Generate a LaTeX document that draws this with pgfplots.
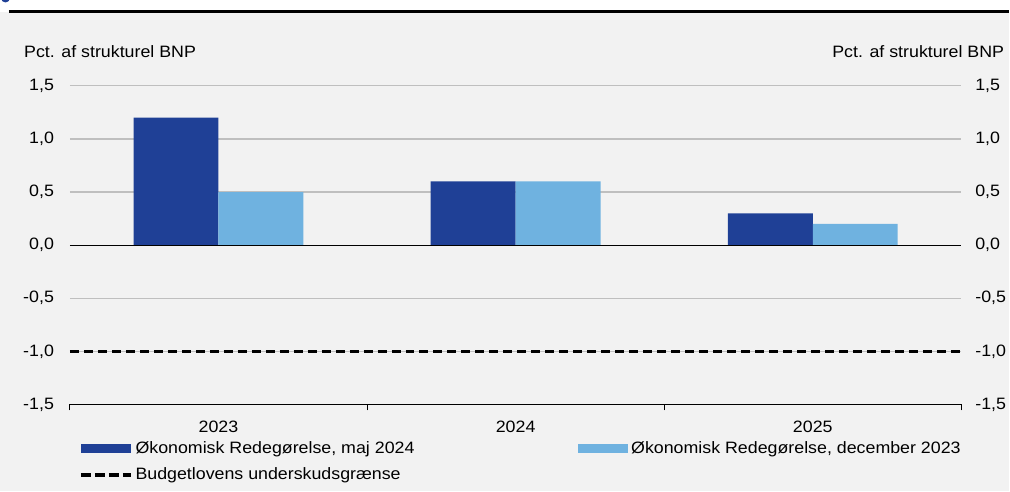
\documentclass[border=0pt]{standalone}
\usepackage{pgfplots}
\pgfplotsset{compat=1.18}
\usepackage{fontspec}
\setmainfont{Liberation Sans}[FakeStretch=1.08]
\definecolor{darkblue}{HTML}{1F4096}
\definecolor{lightblue}{HTML}{6FB2E0}
\definecolor{bggray}{HTML}{F2F2F2}
\definecolor{gridgray}{HTML}{BFBFBF}
\definecolor{titleblue}{HTML}{1F4096}
\newcommand\fs{\fontsize{16.5bp}{19.8bp}\selectfont}
\begin{document}
\begin{tikzpicture}[x=1bp,y=1bp]
\fill[white] (0,0) rectangle (1010,492);
\fill[bggray] (0,0) rectangle (1010,480);
\draw[black, line width=2.5bp] (9,480.5) -- (1010,480.5);
\begin{scope}
\clip (0,488.5) rectangle (20,492);
\fill[titleblue] (5.5,494) circle (4.5);
\end{scope}
\node[anchor=base west, font=\fs, inner sep=0pt] at (24,434.3) {Pct. af strukturel BNP};
\node[anchor=base east, font=\fs, inner sep=0pt] at (1005.5,434.3) {Pct. af strukturel BNP};
\begin{axis}[
  at={(70bp,87bp)}, anchor=south west, scale only axis,
  width=892.5bp, height=319bp,
  xmin=-0.5, xmax=2.5, ymin=-1.5, ymax=1.5,
  axis x line*=bottom, axis y line*=left,
  y axis line style={draw=none},
  x axis line style={line width=1.2bp, black},
  xtick={-0.5,0.5,1.5,2.5}, xticklabels={},
  xtick align=outside, major tick length=6bp,
  x tick style={line width=1bp, black},
  extra x ticks={0,1,2}, extra x tick labels={2023,2024,2025},
  extra x tick style={major tick length=0pt, tick style={draw=none}, xticklabel style={yshift=-13bp}},
  xticklabel style={font=\fs},
  ytick={-1.5,-1,-0.5,0,0.5,1,1.5},
  yticklabels={{-1,5},{-1,0},{-0,5},{0,0},{0,5},{1,0},{1,5}},
  yticklabel style={font=\fs, xshift=-12.5bp},
  y tick style={draw=none},
  ymajorgrids, grid style={gridgray, line width=1.2bp},
  legend columns=2,
  legend cell align=left,
  legend style={at={(0,0)}, anchor=north west, xshift=9bp, yshift=-35bp,
    draw=none, fill=none, inner sep=0pt, font=\fs, row sep=9bp,
    /tikz/every even column/.append style={column sep=162bp}},
]
\addplot[fill=darkblue, draw=none, ybar, bar width=85bp, bar shift=-42.5bp,
  legend image code/.code={\fill[darkblue] (0bp,-4.2bp) rectangle (50bp,4.2bp); \path (51bp,0bp);}]
  coordinates {(0,1.2) (1,0.6) (2,0.3)};
\addlegendentry{Økonomisk Redegørelse, maj 2024}
\addplot[fill=lightblue, draw=none, ybar, bar width=85bp, bar shift=42.5bp,
  legend image code/.code={\fill[lightblue] (0bp,-4.2bp) rectangle (50bp,4.2bp); \path (51bp,0bp);}]
  coordinates {(0,0.5) (1,0.6) (2,0.2)};
\addlegendentry{Økonomisk Redegørelse, december 2023}
\addplot[black, line width=1.3bp, forget plot] coordinates {(-0.5,0) (2.5,0)};
\addplot[black, line width=3.5bp, dash pattern=on 9bp off 5bp,
  legend image code/.code={\draw[black, line width=3.5bp, dash pattern=on 10bp off 4bp] (0bp,0bp) -- (50bp,0bp); \path (51bp,0bp);}]
  coordinates {(-0.5,-1) (2.5,-1)};
\addlegendentry{Budgetlovens underskudsgrænse}
\end{axis}
\begin{axis}[
  at={(70bp,87bp)}, anchor=south west, scale only axis,
  width=892.5bp, height=319bp,
  xmin=-0.5, xmax=2.5, ymin=-1.5, ymax=1.5,
  hide x axis, axis y line*=right,
  y axis line style={draw=none},
  ytick={-1.5,-1,-0.5,0,0.5,1,1.5},
  yticklabels={{-1,5},{-1,0},{-0,5},{0,0},{0,5},{1,0},{1,5}},
  yticklabel style={font=\fs, xshift=10.5bp},
  y tick style={draw=none}, major tick length=0pt,
]
\addplot[draw=none, forget plot] coordinates {(0,0)};
\end{axis}
\end{tikzpicture}
\end{document}
